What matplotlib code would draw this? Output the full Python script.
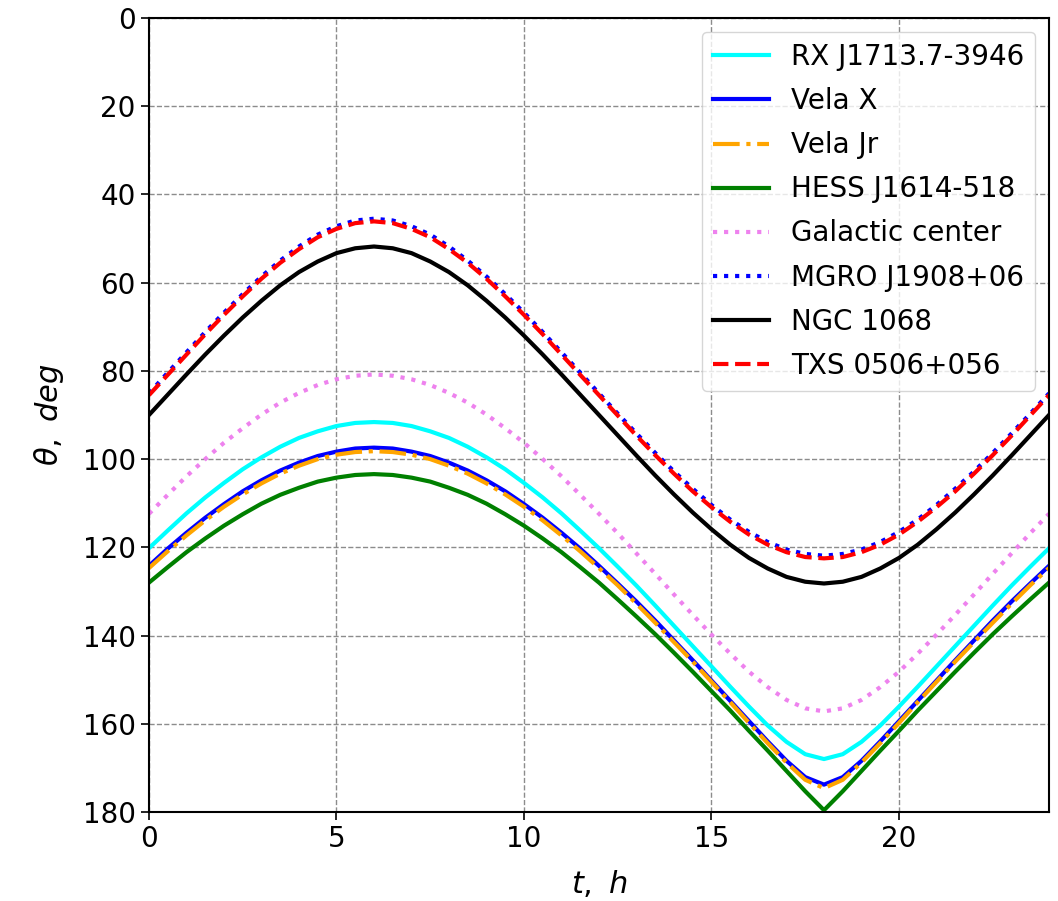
import matplotlib
matplotlib.use("Agg")
import matplotlib.pyplot as plt

# time grid, half-hour steps from 0 to 24 h
t_hours = [i * 0.5 for i in range(49)]

rx_j1713 = [120.2, 116.2, 112.3, 108.7, 105.4, 102.3, 99.6, 97.2, 95.2, 93.7, 92.5, 91.8, 91.6,
            91.8, 92.5, 93.7, 95.2, 97.2, 99.6, 102.3, 105.4, 108.7, 112.3, 116.2, 120.2,
            124.4, 128.7, 133.2, 137.8, 142.4, 147.0, 151.6, 156.1, 160.4, 164.1, 166.9, 168.0,
            166.9, 164.1, 160.4, 156.1, 151.6, 147.0, 142.4, 137.8, 133.2, 128.7, 124.4, 120.2]
vela_x = [124.2, 120.3, 116.7, 113.3, 110.2, 107.3, 104.8, 102.6, 100.8, 99.3, 98.3, 97.6, 97.4,
          97.6, 98.3, 99.3, 100.8, 102.6, 104.8, 107.3, 110.2, 113.3, 116.7, 120.3, 124.2,
          128.2, 132.3, 136.6, 141.1, 145.6, 150.2, 154.8, 159.4, 164.0, 168.4, 172.1, 173.8,
          172.1, 168.4, 164.0, 159.4, 154.8, 150.2, 145.6, 141.1, 136.6, 132.3, 128.2, 124.2]
vela_jr = [124.7, 120.9, 117.3, 113.9, 110.8, 108.0, 105.5, 103.3, 101.5, 100.0, 99.0, 98.4, 98.2,
           98.4, 99.0, 100.0, 101.5, 103.3, 105.5, 108.0, 110.8, 113.9, 117.3, 120.9, 124.7,
           128.6, 132.8, 137.1, 141.5, 145.9, 150.5, 155.1, 159.8, 164.4, 168.8, 172.7, 174.6,
           172.7, 168.8, 164.4, 159.8, 155.1, 150.5, 145.9, 141.5, 137.1, 132.8, 128.6, 124.7]
hess_j1614 = [128.0, 124.5, 121.1, 118.0, 115.1, 112.5, 110.1, 108.1, 106.5, 105.1, 104.2, 103.6, 103.4,
              103.6, 104.2, 105.1, 106.5, 108.1, 110.1, 112.5, 115.1, 118.0, 121.1, 124.5, 128.0,
              131.8, 135.7, 139.7, 143.9, 148.2, 152.6, 157.0, 161.6, 166.1, 170.7, 175.3, 179.6,
              175.3, 170.7, 166.1, 161.6, 157.0, 152.6, 148.2, 143.9, 139.7, 135.7, 131.8, 128.0]
galactic_center = [112.4, 108.1, 103.9, 100.0, 96.3, 93.0, 89.9, 87.2, 85.0, 83.2, 81.9, 81.1, 80.8,
                   81.1, 81.9, 83.2, 85.0, 87.2, 89.9, 93.0, 96.3, 100.0, 103.9, 108.1, 112.4,
                   116.8, 121.4, 126.0, 130.7, 135.3, 139.8, 144.1, 148.2, 151.7, 154.6, 156.5, 157.2,
                   156.5, 154.6, 151.7, 148.2, 144.1, 139.8, 135.3, 130.7, 126.0, 121.4, 116.8, 112.4]
mgro_j1908 = [85.1, 80.4, 75.8, 71.2, 66.8, 62.6, 58.6, 55.0, 51.8, 49.1, 47.2, 45.9, 45.5,
              45.9, 47.2, 49.1, 51.8, 55.0, 58.6, 62.6, 66.8, 71.2, 75.8, 80.4, 85.1,
              89.7, 94.2, 98.6, 102.8, 106.7, 110.4, 113.7, 116.5, 118.8, 120.5, 121.5, 121.9,
              121.5, 120.5, 118.8, 116.5, 113.7, 110.4, 106.7, 102.8, 98.6, 94.2, 89.7, 85.1]
ngc_1068 = [90.0, 85.4, 80.8, 76.3, 72.0, 67.9, 64.1, 60.6, 57.6, 55.2, 53.3, 52.2, 51.8,
            52.2, 53.3, 55.2, 57.6, 60.6, 64.1, 67.9, 72.0, 76.3, 80.8, 85.4, 90.0,
            94.6, 99.2, 103.7, 108.0, 112.1, 115.9, 119.4, 122.4, 124.8, 126.7, 127.8, 128.2,
            127.8, 126.7, 124.8, 122.4, 119.4, 115.9, 112.1, 108.0, 103.7, 99.2, 94.6, 90.0]
txs_0506 = [85.5, 80.9, 76.3, 71.7, 67.3, 63.1, 59.1, 55.5, 52.4, 49.7, 47.8, 46.5, 46.1,
            46.5, 47.8, 49.7, 52.4, 55.5, 59.1, 63.1, 67.3, 71.7, 76.3, 80.9, 85.5,
            90.1, 94.7, 99.1, 103.3, 107.3, 110.9, 114.2, 117.1, 119.4, 121.1, 122.2, 122.5,
            122.2, 121.1, 119.4, 117.1, 114.2, 110.9, 107.3, 103.3, 99.1, 94.7, 90.1, 85.5]

labels = ["RX J1713.7-3946", "Vela X", "Vela Jr", "HESS J1614-518",
          "Galactic center", "MGRO J1908+06", "NGC 1068", "TXS 0506+056"]
series = [rx_j1713, vela_x, vela_jr, hess_j1614, galactic_center, mgro_j1908, ngc_1068, txs_0506]
colors = ["cyan", "blue", "orange", "green", "violet", "blue", "black", "red"]
styles = ["-", "-", "-.", "-", ":", ":", "-", "--"]

x_ticks = [0, 5, 10, 15, 20]
y_ticks = [0, 20, 40, 60, 80, 100, 120, 140, 160, 180]

fig = plt.figure(figsize=(10.58, 9.01), dpi=100)
ax = fig.add_axes([0.1408, 0.0988, 0.8507, 0.8812])

for y, lab, c, ls in zip(series, labels, colors, styles):
    ax.plot(t_hours, y, color=c, linestyle=ls, linewidth=3, label=lab)

ax.set_xlim(0, 24)
ax.set_ylim(180, 0)
ax.set_xticks(x_ticks)
ax.set_yticks(y_ticks)
ax.tick_params(labelsize=20, length=6, width=1.2)
ax.grid(True, linestyle="--", color="gray", linewidth=1.0, alpha=0.9)
for s in ax.spines.values():
    s.set_linewidth(1.5)

ax.set_xlabel(r"$t,\ h$", fontsize=22, labelpad=11)
ax.set_ylabel(r"$\theta,\ deg$", fontsize=22, labelpad=12)
ax.legend(loc="upper right", fontsize=20, labelspacing=0.58)

fig.savefig("out.png", dpi=100)
